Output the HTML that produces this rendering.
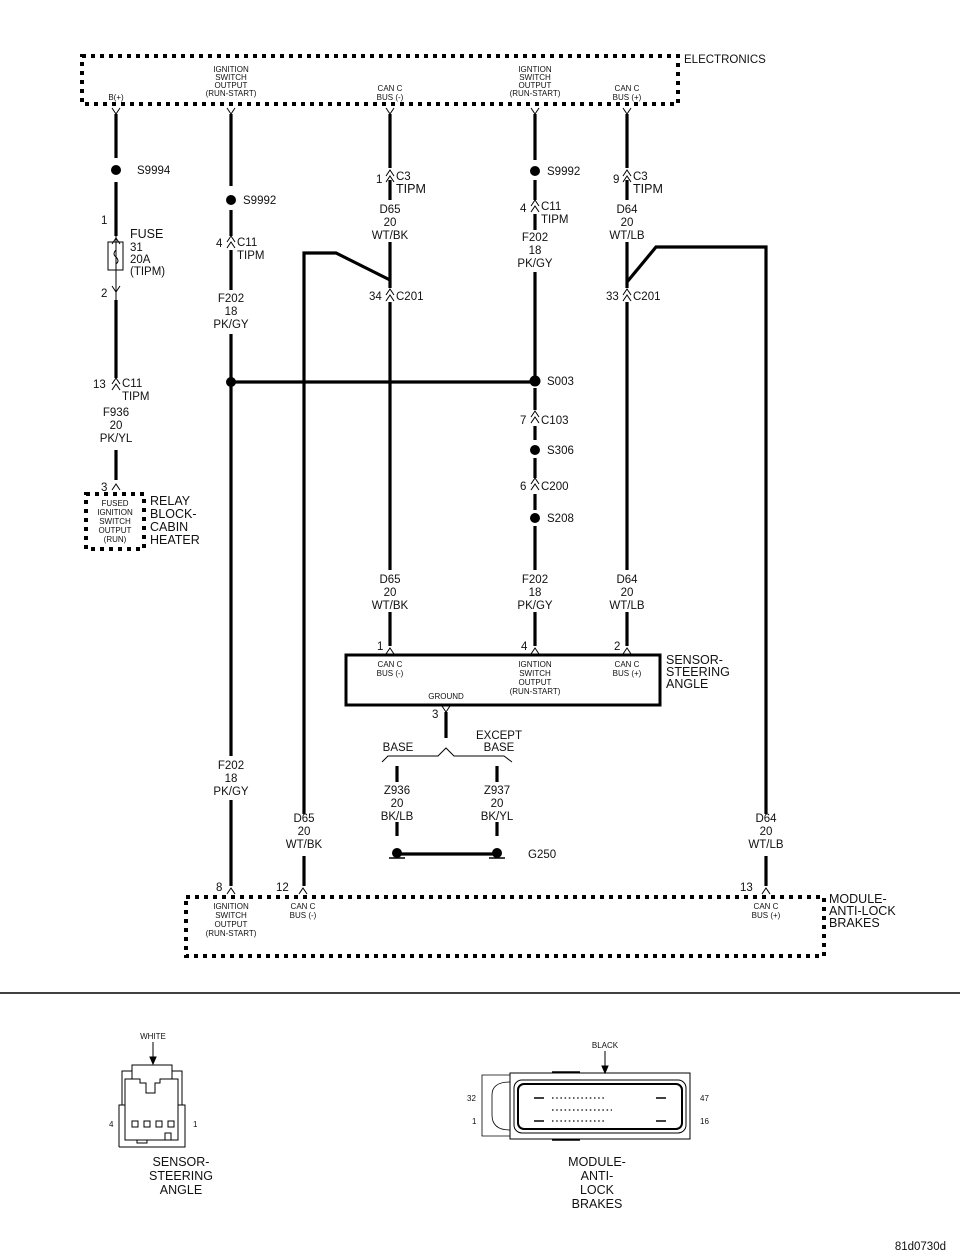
<!DOCTYPE html>
<html><head><meta charset="utf-8"><style>
html,body{margin:0;padding:0;background:#fff}
svg{display:block}
text{font-family:"Liberation Sans",Arial,sans-serif;fill:#111}
.s{font-size:8px}
.m{font-size:11.5px}
.l{font-size:12.5px}
.w{stroke:#000;stroke-width:3.2;fill:none}
.t{stroke:#000;stroke-width:1;fill:none}
.d{stroke:#000;stroke-width:4;stroke-dasharray:4,5;fill:none}
</style></head><body>
<svg width="960" height="1258" viewBox="0 0 960 1258" xmlns="http://www.w3.org/2000/svg">
<defs>
<g id="c"><path d="M-4,-1 L0,-7 L4,-1 M-4,5 L0,-1 L4,5" stroke="#000" stroke-width="1" fill="none"/></g>
<g id="y"><path d="M-4,-4 L0,2 L4,-4" stroke="#000" stroke-width="1" fill="none"/></g>
<g id="a"><path d="M-4,4 L0,-2 L4,4" stroke="#000" stroke-width="1" fill="none"/></g>
</defs>

<!-- ELECTRONICS box -->
<rect x="82" y="56" width="596" height="48" class="d"/>
<text x="684" y="63" class="m">ELECTRONICS</text>
<g class="s" text-anchor="middle">
<text x="116" y="100">B(+)</text>
<text x="231" y="72">IGNITION</text><text x="231" y="80">SWITCH</text><text x="231" y="88">OUTPUT</text><text x="231" y="96">(RUN-START)</text>
<text x="390" y="91">CAN C</text><text x="390" y="100">BUS (-)</text>
<text x="535" y="72">IGNTION</text><text x="535" y="80">SWITCH</text><text x="535" y="88">OUTPUT</text><text x="535" y="96">(RUN-START)</text>
<text x="627" y="91">CAN C</text><text x="627" y="100">BUS (+)</text>
</g>
<use href="#y" x="116" y="112"/><use href="#y" x="231" y="112"/><use href="#y" x="390" y="112"/><use href="#y" x="535" y="112"/><use href="#y" x="627" y="112"/>

<!-- wire 116 -->
<path class="w" d="M116,114V158 M116,182V236 M116,300V378 M116,450V480"/>
<path class="t" d="M116,236V300"/>
<circle cx="116" cy="170" r="5"/>
<text x="137" y="174" class="m">S9994</text>
<use href="#a" x="116" y="240"/><text x="101" y="224" class="m">1</text>
<rect x="108" y="242" width="15" height="28" class="t" stroke-width="1.3"/>
<path class="t" d="M116,242 v8 q-4,4 0,7 q4,4 0,7 v6"/>
<text x="130" y="238" class="l">FUSE</text><text x="130" y="251" class="m">31</text><text x="130" y="263" class="m">20A</text><text x="130" y="275" class="m">(TIPM)</text>
<use href="#y" x="116" y="290"/><text x="101" y="297" class="m">2</text>
<use href="#c" x="116" y="385"/><text x="93" y="388" class="m">13</text>
<text x="122" y="387" class="m">C11</text><text x="122" y="400" class="m">TIPM</text>
<g class="m" text-anchor="middle"><text x="116" y="416">F936</text><text x="116" y="429">20</text><text x="116" y="442">PK/YL</text></g>
<use href="#a" x="116" y="486"/><text x="101" y="491" class="m">3</text>
<rect x="86" y="494" width="58" height="55" class="d" stroke-width="3" stroke-dasharray="3,4"/>
<g class="s" text-anchor="middle"><text x="115" y="506">FUSED</text><text x="115" y="515">IGNITION</text><text x="115" y="524">SWITCH</text><text x="115" y="533">OUTPUT</text><text x="115" y="542">(RUN)</text></g>
<g class="l"><text x="150" y="505">RELAY</text><text x="150" y="518">BLOCK-</text><text x="150" y="531">CABIN</text><text x="150" y="544">HEATER</text></g>

<!-- wire 231 -->
<path class="w" d="M231,114V186 M231,210V236 M231,250V290 M231,334V756 M231,800V886"/>
<circle cx="231" cy="200" r="5"/><text x="243" y="204" class="m">S9992</text>
<use href="#c" x="231" y="243"/><text x="216" y="247" class="m">4</text>
<text x="237" y="246" class="m">C11</text><text x="237" y="259" class="m">TIPM</text>
<g class="m" text-anchor="middle"><text x="231" y="302">F202</text><text x="231" y="315">18</text><text x="231" y="328">PK/GY</text>
<text x="231" y="769">F202</text><text x="231" y="782">18</text><text x="231" y="795">PK/GY</text></g>
<circle cx="231" cy="382" r="5"/>
<path class="w" d="M231,382H530"/>

<!-- wire 390 -->
<path class="w" d="M390,114V168 M390,180V200 M390,242V288 M390,302V570 M390,612V646"/>
<use href="#c" x="390" y="177"/><text x="376" y="183" class="m">1</text>
<text x="396" y="180" class="m">C3</text><text x="396" y="193" class="l">TIPM</text>
<g class="m" text-anchor="middle"><text x="390" y="213">D65</text><text x="390" y="226">20</text><text x="390" y="239">WT/BK</text>
<text x="390" y="583">D65</text><text x="390" y="596">20</text><text x="390" y="609">WT/BK</text></g>
<use href="#c" x="390" y="296"/><text x="369" y="300" class="m">34</text><text x="396" y="300" class="m">C201</text>
<path class="w" d="M390,280L336,253H304V814 M304,856V886"/>
<g class="m" text-anchor="middle"><text x="304" y="822">D65</text><text x="304" y="835">20</text><text x="304" y="848">WT/BK</text></g>

<!-- wire 535 -->
<path class="w" d="M535,114V160 M535,180V200 M535,214V230 M535,272V376 M535,388V410 M535,426V440 M535,458V478 M535,494V510 M535,526V570 M535,612V646"/>
<circle cx="535" cy="171" r="5"/><text x="547" y="175" class="m">S9992</text>
<use href="#c" x="535" y="207"/><text x="520" y="212" class="m">4</text>
<text x="541" y="210" class="m">C11</text><text x="541" y="223" class="m">TIPM</text>
<g class="m" text-anchor="middle"><text x="535" y="241">F202</text><text x="535" y="254">18</text><text x="535" y="267">PK/GY</text>
<text x="535" y="583">F202</text><text x="535" y="596">18</text><text x="535" y="609">PK/GY</text></g>
<circle cx="535" cy="381" r="5.5"/><text x="547" y="385" class="m">S003</text>
<use href="#c" x="535" y="418"/><text x="520" y="424" class="m">7</text><text x="541" y="424" class="m">C103</text>
<circle cx="535" cy="450" r="5"/><text x="547" y="454" class="m">S306</text>
<use href="#c" x="535" y="485"/><text x="520" y="490" class="m">6</text><text x="541" y="490" class="m">C200</text>
<circle cx="535" cy="518" r="5"/><text x="547" y="522" class="m">S208</text>

<!-- wire 627 -->
<path class="w" d="M627,114V168 M627,180V200 M627,242V288 M627,302V570 M627,612V646"/>
<use href="#c" x="627" y="177"/><text x="613" y="183" class="m">9</text>
<text x="633" y="180" class="m">C3</text><text x="633" y="193" class="l">TIPM</text>
<g class="m" text-anchor="middle"><text x="627" y="213">D64</text><text x="627" y="226">20</text><text x="627" y="239">WT/LB</text>
<text x="627" y="583">D64</text><text x="627" y="596">20</text><text x="627" y="609">WT/LB</text></g>
<use href="#c" x="627" y="296"/><text x="606" y="300" class="m">33</text><text x="633" y="300" class="m">C201</text>
<path class="w" d="M627,282L656,247H766V814 M766,856V886"/>
<g class="m" text-anchor="middle"><text x="766" y="822">D64</text><text x="766" y="835">20</text><text x="766" y="848">WT/LB</text></g>

<!-- sensor box -->
<rect x="346" y="655" width="314" height="50" fill="none" stroke="#000" stroke-width="3"/>
<use href="#a" x="390" y="650"/><text x="377" y="650" class="m">1</text>
<use href="#a" x="535" y="650"/><text x="521" y="650" class="m">4</text>
<use href="#a" x="627" y="650"/><text x="614" y="650" class="m">2</text>
<g class="s" text-anchor="middle">
<text x="390" y="667">CAN C</text><text x="390" y="676">BUS (-)</text>
<text x="535" y="667">IGNTION</text><text x="535" y="676">SWITCH</text><text x="535" y="685">OUTPUT</text><text x="535" y="694">(RUN-START)</text>
<text x="627" y="667">CAN C</text><text x="627" y="676">BUS (+)</text>
<text x="446" y="699">GROUND</text></g>
<g class="l"><text x="666" y="664">SENSOR-</text><text x="666" y="676">STEERING</text><text x="666" y="688">ANGLE</text></g>
<use href="#y" x="446" y="710"/><text x="432" y="718" class="m">3</text>
<path class="w" d="M446,712V738"/>
<path class="t" stroke-width="1.6" d="M382,762L388,756H438L446,748L454,756H504L512,762"/>
<g class="m" text-anchor="middle"><text x="398" y="751">BASE</text><text x="499" y="739">EXCEPT</text><text x="499" y="751">BASE</text></g>
<path class="w" d="M397,766V782 M497,766V782 M397,822V836 M497,822V836"/>
<g class="m" text-anchor="middle"><text x="397" y="794">Z936</text><text x="397" y="807">20</text><text x="397" y="820">BK/LB</text>
<text x="497" y="794">Z937</text><text x="497" y="807">20</text><text x="497" y="820">BK/YL</text></g>
<path class="w" d="M397,854H497"/>
<circle cx="397" cy="853" r="5"/><circle cx="497" cy="853" r="5"/>
<path d="M389,858H405M489,858H505" stroke="#000" stroke-width="1.5"/>
<text x="528" y="858" class="m">G250</text>

<!-- ABS box -->
<rect x="186" y="897" width="638" height="59" class="d"/>
<use href="#a" x="231" y="890"/><text x="216" y="891" class="m">8</text>
<use href="#a" x="303" y="890"/><text x="276" y="891" class="m">12</text>
<use href="#a" x="766" y="890"/><text x="740" y="891" class="m">13</text>
<g class="s" text-anchor="middle">
<text x="231" y="909">IGNITION</text><text x="231" y="918">SWITCH</text><text x="231" y="927">OUTPUT</text><text x="231" y="936">(RUN-START)</text>
<text x="303" y="909">CAN C</text><text x="303" y="918">BUS (-)</text>
<text x="766" y="909">CAN C</text><text x="766" y="918">BUS (+)</text></g>
<g class="l"><text x="829" y="903">MODULE-</text><text x="829" y="915">ANTI-LOCK</text><text x="829" y="927">BRAKES</text></g>

<path d="M0,993H960" stroke="#000" stroke-width="1.5"/>

<!-- steering connector -->
<text x="153" y="1039" class="s" text-anchor="middle">WHITE</text>
<g fill="none" stroke="#000" stroke-width="1">
<path d="M153,1042V1060"/><path d="M150,1057L153,1064L156,1057Z" fill="#000"/>
<path d="M132,1079V1065H172V1079"/>
<path d="M122,1105V1071H132 M172,1071H182V1105"/>
<path d="M125,1105V1079H140V1083H146V1093H155V1083H160V1079H178V1105"/>
<path d="M119,1147V1105H125 M178,1105H185V1147H119"/>
<path d="M125,1105V1140H178V1105"/>
<rect x="132" y="1121" width="6" height="6"/><rect x="144" y="1121" width="6" height="6"/><rect x="156" y="1121" width="6" height="6"/><rect x="168" y="1121" width="6" height="6"/>
<path d="M137,1140V1143H147V1140 M165,1140V1133H171V1140"/>
</g>
<text x="109" y="1127" class="s">4</text><text x="193" y="1127" class="s">1</text>
<g class="l" text-anchor="middle"><text x="181" y="1166">SENSOR-</text><text x="181" y="1180">STEERING</text><text x="181" y="1194">ANGLE</text></g>

<!-- ABS connector -->
<text x="605" y="1048" class="s" text-anchor="middle">BLACK</text>
<g fill="none" stroke="#000">
<path d="M605,1051V1068" stroke-width="1"/><path d="M602,1066L605,1073L608,1066Z" fill="#000"/>
<path d="M482,1075H510V1136H482Z" stroke-width="0.8"/>
<path d="M510,1082Q492,1082 492,1095V1115Q492,1130 510,1130" stroke-width="0.8"/>
<rect x="510" y="1073" width="180" height="66" stroke-width="1"/>
<rect x="514" y="1080" width="172" height="53" rx="8" stroke-width="1"/>
<rect x="518" y="1084" width="164" height="45" rx="6" stroke-width="2"/>
<path d="M534,1098H544M656,1098H666M534,1121H544M656,1121H666" stroke-width="1.5"/>
<path d="M552,1098H606M552,1110H612M552,1121H606" stroke-width="1.2" stroke-dasharray="1.5,2.7"/>
<path d="M552,1072H580M552,1140H580" stroke-width="1.5"/>
</g>
<text x="467" y="1101" class="s">32</text><text x="472" y="1124" class="s">1</text>
<text x="700" y="1101" class="s">47</text><text x="700" y="1124" class="s">16</text>
<g class="l" text-anchor="middle"><text x="597" y="1166">MODULE-</text><text x="597" y="1180">ANTI-</text><text x="597" y="1194">LOCK</text><text x="597" y="1208">BRAKES</text></g>

<text x="946" y="1250" class="m" text-anchor="end">81d0730d</text>
</svg>
</body></html>
